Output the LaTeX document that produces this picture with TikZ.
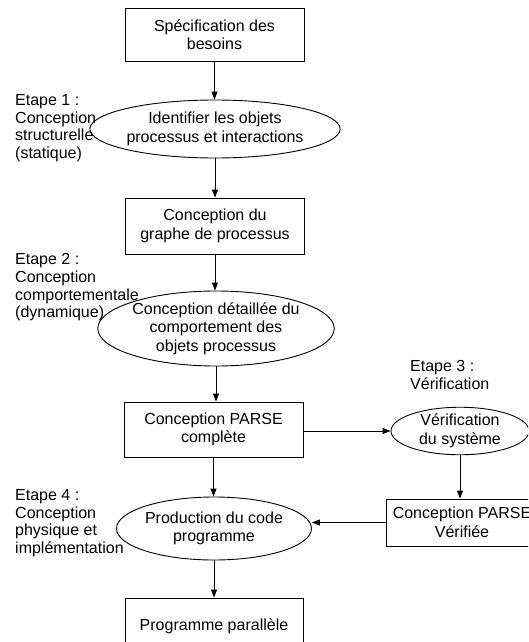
\documentclass[tikz,border=0pt]{standalone}
\usepackage{fontspec}
\setmainfont{Liberation Sans}
\usetikzlibrary{shapes.geometric,arrows.meta}
\begin{document}
\begin{tikzpicture}[x=1pt,y=-1pt,
  every node/.style={font=\fontsize{16pt}{18.5pt}\selectfont, align=center, inner sep=0pt},
  stepbox/.style={draw, line width=0.9pt, rectangle},
  stepell/.style={draw, line width=0.9pt, ellipse},
  note/.style={anchor=north west, align=left, font=\fontsize{16pt}{17.6pt}\selectfont},
  arr/.style={line width=0.9pt, -{Triangle[length=8pt,width=6pt]}}]
\useasboundingbox (0,0) rectangle (528,642);
\fill[white] (0,0) rectangle (528,642);
\clip (0,0) rectangle (528,642);

% main flow
\node[stepbox, minimum width=179pt, minimum height=53pt] (spec) at (214.5,34.5)
  {Spécification des\\besoins};
\node[stepell, minimum width=204pt, minimum height=58pt] (ident) at (215,129)
  {Identifier les objets\\processus et interactions};
\node[stepbox, minimum width=179pt, minimum height=56pt] (graphe) at (215,226)
  {Conception du\\graphe de processus};
\node[stepell, minimum width=214pt, minimum height=75pt] (detail) at (216,328.5)
  {Conception détaillée du\\comportement des\\objets processus};
\node[stepbox, minimum width=179pt, minimum height=55pt] (parse) at (213.5,429.5)
  {Conception PARSE\\complète};
\node[stepell, minimum width=138pt, minimum height=45pt] (verif) at (460,431)
  {Vérification\\du système};
\node[stepbox, minimum width=152pt, minimum height=47pt] (parsev) at (462,522.5)
  {Conception PARSE\\Vérifiée};
\node[stepell, minimum width=194pt, minimum height=63pt] (prod) at (214,528.5)
  {Production du code\\programme};
\node[stepbox, minimum width=178pt, minimum height=56pt] (prog) at (214,626)
  {Programme parallèle};

% stage labels
\node[note] (st1) at (15,94.5) {Etape 1 :\\Conception\\structurelle\\(statique)};
\node[note] (st2) at (15,253.5) {Etape 2 :\\Conception\\comportementale\\(dynamique)};
\node[note] (st3) at (410,360.5) {Etape 3 :\\Vérification};
\node[note] (st4) at (15,489.5) {Etape 4 :\\Conception\\physique et\\implémentation};

% connectors
\draw[arr] (spec.south) -- (spec.south |- ident.north);
\draw[arr] (ident.south) -- (ident.south |- graphe.north);
\draw[arr] (graphe.south) -- (graphe.south |- detail.north);
\draw[arr] (detail.south) -- (detail.south |- parse.north);
\draw[arr] (parse.south) -- (parse.south |- prod.north);
\draw[arr] (prod.south) -- (prod.south |- prog.north);
\draw[arr] (parse.east |- verif.west) -- (verif.west);
\draw[arr] (verif.south) -- (verif.south |- parsev.north);
\draw[arr] (parsev.west) -- (parsev.west -| prod.east);
\end{tikzpicture}
\end{document}
